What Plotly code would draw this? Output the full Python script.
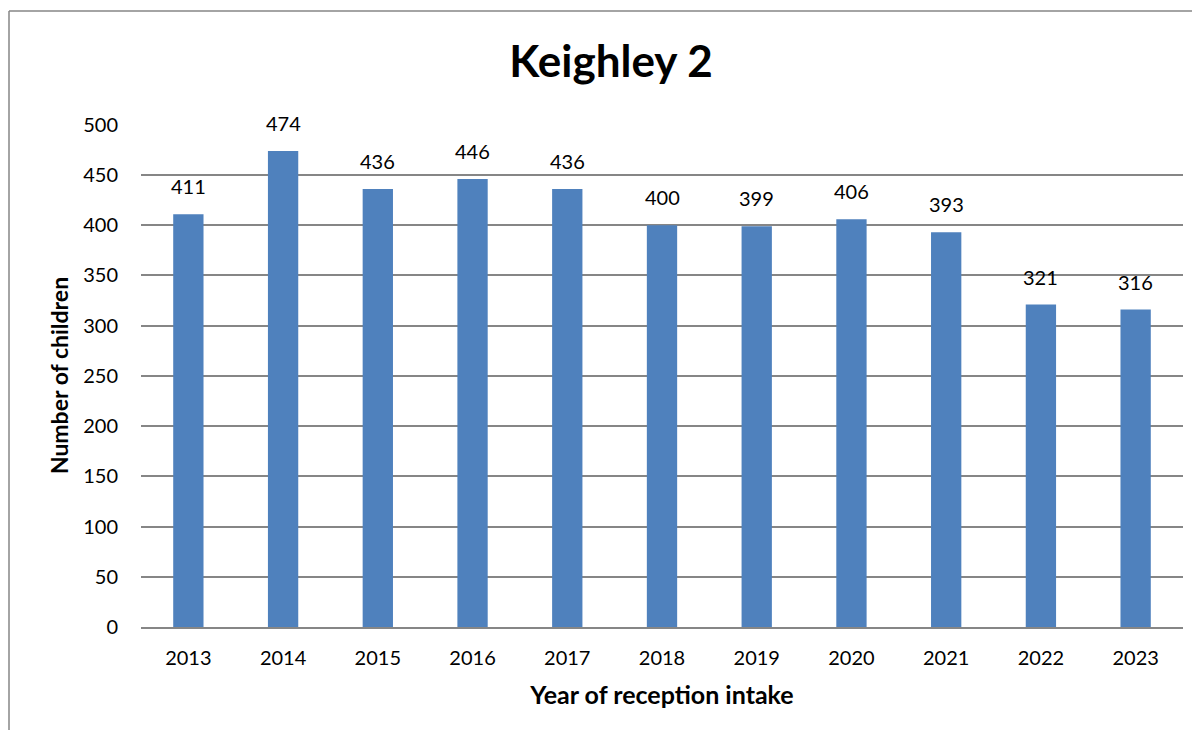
import plotly.graph_objects as go

years = ["2013", "2014", "2015", "2016", "2017", "2018", "2019", "2020", "2021", "2022", "2023"]
children = [411, 474, 436, 446, 436, 400, 399, 406, 393, 321, 316]
y_ticks = [0, 50, 100, 150, 200, 250, 300, 350, 400, 450, 500]

FONT = "Lato"
# the page body adds an 8px margin, so the figure is sized to fit the window
W, H = 1184, 722
L, R, T, B = 133, 9, 116, 103
pw, ph = W - L - R, H - T - B

fig = go.Figure()
fig.add_trace(go.Bar(
    x=years, y=children,
    marker=dict(color="#4F81BD", line=dict(width=0)),
    width=0.32,
    hoverinfo="x+y",
))

for i, v in enumerate(children):
    fig.add_annotation(x=i, y=v, text=str(v), showarrow=False,
                       xref="x", yref="y",
                       yanchor="bottom", yshift=14,
                       font=dict(family=FONT, size=20, color="#000"))

def px_x(p):
    return (p - L) / pw

def px_y(p):
    return (H - B - p) / ph

border = dict(color="#868686", width=1.5)
# chart-area border: only its top and left edges fall inside the window
fig.add_shape(type="line", xref="paper", yref="paper",
              x0=px_x(1), x1=px_x(W + 20), y0=px_y(3), y1=px_y(3),
              line=border, layer="below")
fig.add_shape(type="line", xref="paper", yref="paper",
              x0=px_x(1), x1=px_x(1), y0=px_y(3), y1=px_y(H + 20),
              line=border, layer="below")

fig.update_layout(
    width=W, height=H,
    margin=dict(l=L, r=R, t=T, b=B, autoexpand=False),
    paper_bgcolor="white", plot_bgcolor="white",
    showlegend=False,
    title=dict(text="<b>Keighley 2</b>", x=603 / W, xref="container", xanchor="center",
               y=1 - 54 / H, yref="container", yanchor="middle",
               font=dict(family=FONT, size=44, color="#000")),
    font=dict(family=FONT, size=20, color="#000"),
    xaxis=dict(
        type="category", categoryorder="array", categoryarray=years,
        range=[-0.5, len(years) - 0.5],
        showgrid=False, showline=True, linecolor="#868686", linewidth=1.5,
        ticks="", ticklabelstandoff=12,
        tickfont=dict(family=FONT, size=20, color="#000"),
        title=dict(text="<b>Year of reception intake</b>", standoff=19,
                   font=dict(family=FONT, size=25, color="#000")),
    ),
    yaxis=dict(
        range=[0, 500.8], tickmode="array", tickvals=y_ticks,
        showgrid=True, gridcolor="#868686", gridwidth=1.5,
        zeroline=False, showline=False,
        ticks="", ticklabelstandoff=22,
        tickfont=dict(family=FONT, size=20, color="#000"),
        title=dict(text="<b>Number of children</b>", standoff=8,
                   font=dict(family=FONT, size=23, color="#000")),
    ),
)

fig.write_html("out.html")
